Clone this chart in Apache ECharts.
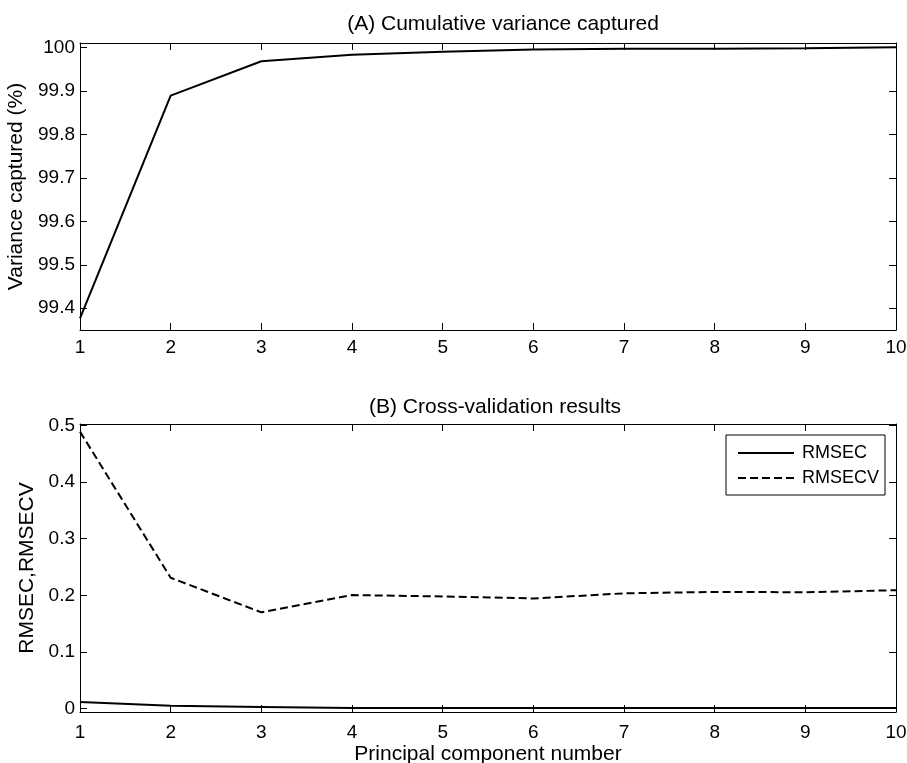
<!DOCTYPE html>
<html>
<head>
<meta charset="utf-8">
<script src="https://cdn.jsdelivr.net/npm/echarts@6/dist/echarts.min.js"></script>
<style>
  html, body { margin: 0; padding: 0; background: #fff; }
  #main { width: 907px; height: 763px; }
</style>
</head>
<body>
<div id="main"></div>
<script>
// principal component numbers
var components = [1, 2, 3, 4, 5, 6, 7, 8, 9, 10]
// (A) cumulative variance captured, %
var varianceCaptured = [99.377, 99.889, 99.968, 99.983, 99.990, 99.995, 99.997, 99.997, 99.998, 100.0]
// (B) cross-validation
var rmsec = [0.0115, 0.005, 0.003, 0.001, 0.001, 0.001, 0.001, 0.001, 0.001, 0.001]
var rmsecv = [0.489, 0.231, 0.170, 0.2005, 0.198, 0.1945, 0.2035, 0.206, 0.2055, 0.209]
// tick labels
var xTicks = [1, 2, 3, 4, 5, 6, 7, 8, 9, 10]
var yTicksA = [99.4, 99.5, 99.6, 99.7, 99.8, 99.9, 100]
var yTicksB = [0, 0.1, 0.2, 0.3, 0.4, 0.5]

function pairs(xs, ys) {
  return xs.map(function (x, i) { return [x, ys[i]] })
}

var font = 'Liberation Sans, Arial, Helvetica, sans-serif'
var black = '#000'

function xAx(grid, pos, showLabel, name, margin) {
  return {
    type: 'value',
    gridIndex: grid,
    position: pos,
    min: 1,
    max: 10,
    name: name || '',
    nameLocation: 'middle',
    nameGap: 32,
    nameTextStyle: { color: black, fontSize: 21, fontFamily: font },
    axisLine: { show: true, onZero: false, lineStyle: { color: black, width: 1 } },
    axisTick: { show: true, inside: true, length: 7, customValues: xTicks, lineStyle: { color: black } },
    axisLabel: { show: showLabel, customValues: xTicks, color: black, fontSize: 19, fontFamily: font, margin: margin || 8 },
    splitLine: { show: false }
  }
}

function yAx(grid, pos, min, max, ticks, showLabel, name, gap) {
  return {
    type: 'value',
    gridIndex: grid,
    position: pos,
    min: min,
    max: max,
    name: name || '',
    nameLocation: 'middle',
    nameGap: gap || 44,
    nameTextStyle: { color: black, fontSize: 21, fontFamily: font },
    axisLine: { show: true, onZero: false, lineStyle: { color: black, width: 1 } },
    axisTick: { show: true, inside: true, length: 7, customValues: ticks, lineStyle: { color: black } },
    axisLabel: { show: showLabel, customValues: ticks, color: black, fontSize: 19, fontFamily: font, margin: 5 },
    splitLine: { show: false }
  }
}

var chart = echarts.init(document.getElementById('main'))
var option = {
  backgroundColor: '#fff',
  animation: false,
  title: [
    {
      text: '(A) Cumulative variance captured',
      left: 498,
      textAlign: 'center',
      top: 9,
      textStyle: { color: black, fontSize: 21, fontWeight: 'normal', fontFamily: font }
    },
    {
      text: '(B) Cross-validation results',
      left: 490,
      textAlign: 'center',
      top: 392,
      textStyle: { color: black, fontSize: 21, fontWeight: 'normal', fontFamily: font }
    }
  ],
  legend: {
    data: ['RMSEC', 'RMSECV'],
    orient: 'vertical',
    left: 726,
    top: 435,
    padding: [9, 6, 8, 11],
    itemGap: 7,
    itemWidth: 56,
    itemHeight: 14,
    backgroundColor: '#fff',
    borderColor: black,
    borderWidth: 1,
    itemStyle: { opacity: 0 },
    textStyle: { color: black, fontSize: 18, fontFamily: font, padding: [0, 0, 0, 3] }
  },
  grid: [
    { left: 80, right: 11, top: 43, height: 287, outerBoundsMode: 'none' },
    { left: 80, right: 11, top: 424, height: 288, outerBoundsMode: 'none' }
  ],
  xAxis: [
    xAx(0, 'bottom', true),
    xAx(0, 'top', false),
    xAx(1, 'bottom', true, 'Principal component number', 11),
    xAx(1, 'top', false)
  ],
  yAxis: [
    yAx(0, 'left', 99.35, 100.01, yTicksA, true, 'Variance captured (%)', 44),
    yAx(0, 'right', 99.35, 100.01, yTicksA, false),
    yAx(1, 'left', -0.006, 0.5025, yTicksB, true, 'RMSEC,RMSECV', 41),
    yAx(1, 'right', -0.006, 0.5025, yTicksB, false)
  ],
  series: [
    {
      name: 'Variance',
      type: 'line',
      xAxisIndex: 0,
      yAxisIndex: 0,
      symbol: 'none',
      lineStyle: { color: black, width: 2 },
      data: pairs(components, varianceCaptured)
    },
    {
      name: 'RMSEC',
      type: 'line',
      xAxisIndex: 2,
      yAxisIndex: 2,
      symbol: 'none',
      itemStyle: { color: black },
      lineStyle: { color: black, width: 2 },
      data: pairs(components, rmsec)
    },
    {
      name: 'RMSECV',
      type: 'line',
      xAxisIndex: 2,
      yAxisIndex: 2,
      symbol: 'none',
      itemStyle: { color: black },
      lineStyle: { color: black, width: 2, type: [8, 4] },
      data: pairs(components, rmsecv)
    }
  ]
}
chart.setOption(option)
</script>
</body>
</html>
